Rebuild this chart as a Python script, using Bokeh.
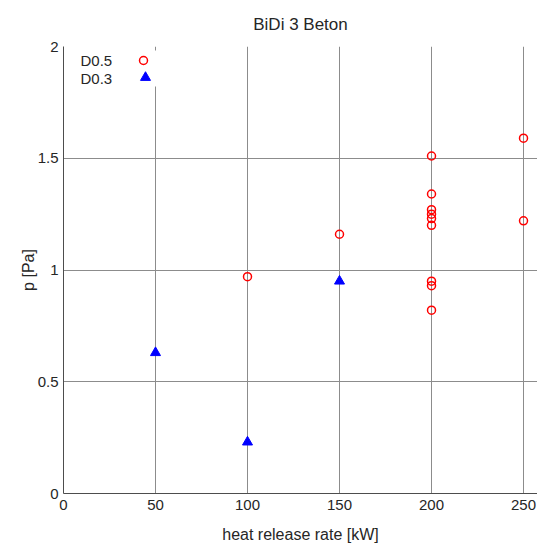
from bokeh.plotting import figure
from bokeh.models import (Range1d, FixedTicker, CustomJSTickFormatter, Label)
from bokeh.embed import file_html
from bokeh.resources import INLINE

# ---- data ----
title_text = "BiDi 3 Beton"
x_label = "heat release rate [kW]"
y_label = "p [Pa]"

d05_name = "D0.5"
d05_x = [100, 150, 200, 200, 200, 200, 200, 200, 200, 200, 200, 250, 250]
d05_y = [0.97, 1.16, 1.51, 1.34, 1.27, 1.25, 1.23, 1.20, 0.95, 0.93, 0.82, 1.59, 1.22]

d03_name = "D0.3"
d03_x = [50, 100, 150]
d03_y = [0.63, 0.23, 0.95]

x_ticks = [0, 50, 100, 150, 200, 250]
y_ticks = [0, 0.5, 1, 1.5, 2]

FONT = "Liberation Sans"
TXT = "#262626"
GRID = "#8c8c8c"

W, H = 537, 546
ML, MR, MT, MB = 63, 0, 46, 53
FW, FH = W - ML - MR, H - MT - MB

p = figure(width=W, height=H, output_backend="svg", toolbar_location=None,
           x_range=Range1d(0, 257.6), y_range=Range1d(0, 2),
           min_border_left=ML, min_border_right=MR, min_border_top=MT,
           min_border_bottom=MB, title=title_text)
p.outline_line_color = None
p.background_fill_color = "white"

# extra pixel ranges for the legend layout
p.extra_x_ranges = {"px": Range1d(0, FW)}
p.extra_y_ranges = {"px": Range1d(FH, 0)}

p.title.text_font = FONT
p.title.text_font_size = "17px"
p.title.text_font_style = "normal"
p.title.text_color = TXT
p.title.align = "center"
p.title.standoff = 25

fmt = CustomJSTickFormatter(code="return String(tick);")
for ax, ticks, lab in ((p.xaxis[0], x_ticks, x_label), (p.yaxis[0], y_ticks, y_label)):
    ax.ticker = FixedTicker(ticks=ticks)
    ax.formatter = fmt
    ax.axis_label = lab
    ax.axis_label_text_font = FONT
    ax.axis_label_text_font_size = "16px"
    ax.axis_label_text_font_style = "normal"
    ax.axis_label_text_color = TXT
    ax.major_label_text_font = FONT
    ax.major_label_text_font_size = "15px"
    ax.major_label_text_color = TXT
    ax.axis_line_color = "#4d4d4d"
    ax.major_tick_line_color = None
    ax.minor_tick_line_color = None
    ax.major_tick_in = 0
    ax.major_tick_out = 0

p.xaxis[0].major_label_standoff = 6
p.xaxis[0].axis_label_standoff = 13
p.yaxis[0].major_label_standoff = 5
p.yaxis[0].axis_label_standoff = -2

for g in (p.xgrid[0], p.ygrid[0]):
    g.grid_line_color = GRID
    g.grid_line_width = 1
p.xgrid[0].ticker = FixedTicker(ticks=x_ticks)
p.ygrid[0].ticker = FixedTicker(ticks=y_ticks)

# data
p.scatter(d05_x, d05_y, marker="circle", size=8, fill_color=None,
          line_color="red", line_width=1.5)
p.scatter(d03_x, d03_y, marker="triangle", size=10, fill_color="blue",
          line_color="blue", line_width=1)

# legend (label then marker, no frame)
p.quad(left=[0], right=[97], top=[4], bottom=[40], x_range_name="px",
       y_range_name="px", fill_color="white", line_color=None)
for name, yy in ((d05_name, 14), (d03_name, 32)):
    p.add_layout(Label(x=17, y=yy, x_range_name="px", y_range_name="px",
                       text=name, text_font=FONT, text_font_size="15px",
                       text_color=TXT, text_baseline="middle", text_align="left"))
p.scatter([80], [14], x_range_name="px", y_range_name="px", marker="circle",
          size=8, fill_color=None, line_color="red", line_width=1.5)
p.scatter([82], [31], x_range_name="px", y_range_name="px", marker="triangle",
          size=10, fill_color="blue", line_color="blue")

open("out.html", "w").write(file_html(p, INLINE))
